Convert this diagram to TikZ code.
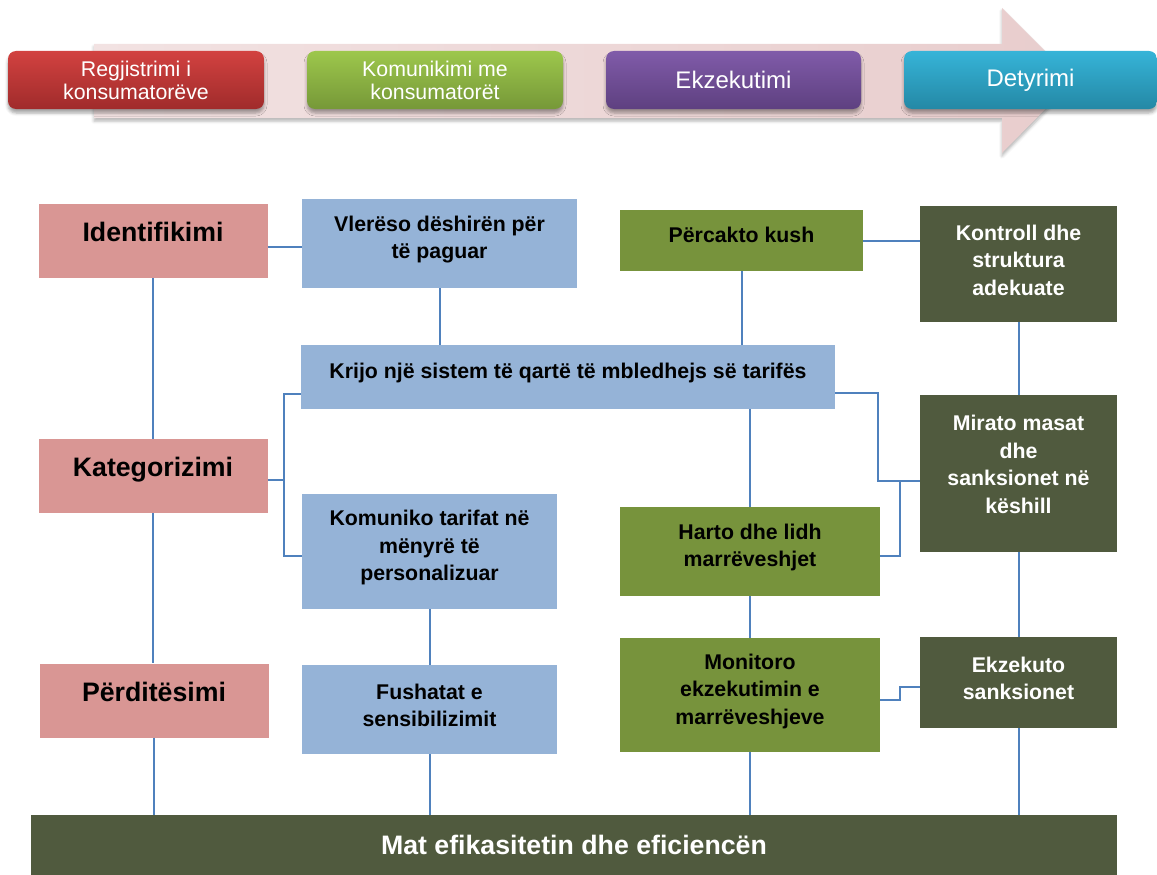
\documentclass[tikz,border=0pt]{standalone}
\usepackage{fontspec}
\setmainfont{Liberation Sans}
\usetikzlibrary{shadows.blur}
\definecolor{bandL}{RGB}{242,226,226}
\definecolor{bandR}{RGB}{232,205,205}
\definecolor{redT}{RGB}{210,66,64}
\definecolor{redB}{RGB}{160,43,43}
\definecolor{grnT}{RGB}{157,199,76}
\definecolor{grnB}{RGB}{118,152,56}
\definecolor{purT}{RGB}{128,91,169}
\definecolor{purB}{RGB}{94,64,128}
\definecolor{tealT}{RGB}{54,180,216}
\definecolor{tealB}{RGB}{36,136,165}
\definecolor{pinkbox}{RGB}{217,150,148}
\definecolor{bluebox}{RGB}{149,179,215}
\definecolor{olivebox}{RGB}{119,147,60}
\definecolor{darkbox}{RGB}{80,90,62}
\definecolor{conn}{RGB}{79,129,189}
\begin{document}
\begin{tikzpicture}[x=1pt,y=-1pt,
  topbox/.style={rectangle, rounded corners=8pt, minimum width=256, minimum height=58, inner sep=0pt,
    blur shadow={shadow xshift=0pt, shadow yshift=-4pt, shadow blur radius=3pt, shadow blur extra rounding=2pt, shadow opacity=35},
    text=white, align=center, font=\fontsize{21.3}{23}\selectfont},
  topone/.style={font=\fontsize{24}{26}\selectfont},
  flat/.style={rectangle, inner sep=0pt},
  pinkb/.style={flat, fill=pinkbox, minimum width=229, minimum height=74},
  blueb/.style={flat, fill=bluebox},
  oliveb/.style={flat, fill=olivebox},
  darkb/.style={flat, fill=darkbox},
  lbl/.style={inner sep=0pt, align=center, font=\bfseries\fontsize{21.3}{27.5}\selectfont, yshift=4pt},
  biglbl/.style={inner sep=0pt, align=center, font=\bfseries\fontsize{26.7}{32}\selectfont, yshift=6pt,
    text height=19pt, text depth=5.5pt},
  onelbl/.style={text height=15.5pt, text depth=4.5pt},
  wlbl/.style={text=white},
  link/.style={draw=conn, line width=2pt}
]
\useasboundingbox (0,0) rectangle (1157,875);

% ---------- top process arrow ----------
\path[left color=bandL, right color=bandR,
  blur shadow={shadow xshift=0pt, shadow yshift=-3pt, shadow blur radius=3pt, shadow opacity=30}]
  (94,44) -- (1002,44) -- (1002,8) -- (1074,80) -- (1002,153) -- (1002,118) -- (94,118) -- cycle;

\node[topbox, top color=redT, bottom color=redB] (reg) at (136,80) {Regjistrimi i\\konsumatorëve};
\node[topbox, top color=grnT, bottom color=grnB] (kmk) at (435,80) {Komunikimi me\\konsumatorët};
\node[topbox, topone, top color=purT, bottom color=purB, minimum width=255] (ekz) at (733.5,80) {Ekzekutimi};
\node[topbox, topone, top color=tealT, bottom color=tealB, minimum width=253] (det) at (1030.5,80) {Detyrimi};

% ---------- connector coordinates ----------
\coordinate (bx) at (284,0);
\coordinate (j1) at (878,481);
\coordinate (j2) at (900,481);

% ---------- boxes ----------
\node[pinkb] (idf) at (153,241) {};
\node[pinkb] (kat) at (153,476) {};
\node[pinkb] (per) at (154,700.5) {};

\node[blueb, minimum width=275, minimum height=89] (vle) at (439.5,243.5) {};
\node[blueb, minimum width=534, minimum height=64] (kri) at (568,377) {};
\node[blueb, minimum width=255, minimum height=115] (kom) at (429.5,551.5) {};
\node[blueb, minimum width=255, minimum height=89] (fus) at (429.5,709.5) {};

\node[oliveb, minimum width=243, minimum height=61] (pck) at (741.5,240.5) {};
\node[oliveb, minimum width=260, minimum height=89] (har) at (750,551.5) {};
\node[oliveb, minimum width=260, minimum height=114] (mon) at (750,695) {};

\node[darkb, minimum width=197, minimum height=116] (kon) at (1018.5,264) {};
\node[darkb, minimum width=197, minimum height=157] (mir) at (1018.5,473.5) {};
\node[darkb, minimum width=197, minimum height=91] (eks) at (1018.5,682.5) {};

\node[darkb, minimum width=1086, minimum height=60] (bar) at (574,845) {};

% ---------- connectors ----------
\draw[link] ([yshift=-6pt]idf.east) -- ([yshift=-6pt]idf.east -| vle.west);
\draw[link] (idf.south) -- (kat.north);
\draw[link] (kat.south) -- (kat.south |- per.north);
\draw[link] (per.south) -- (per.south |- bar.north);
\draw[link] (vle.south) -- (vle.south |- kri.north);
\draw[link] ([yshift=-17pt]kri.west) -| ([yshift=-4pt]bx |- kom.west) -- ([yshift=-4pt]kom.west);
\draw[link] ([yshift=-4pt]kat.east) -- ([yshift=-4pt]bx |- kat.east);
\draw[link] (kom.south) -- (fus.north);
\draw[link] (fus.south) -- (fus.south |- bar.north);
\draw[link] (pck.east) -- (pck.east -| kon.west);
\draw[link] (pck.south) -- (pck.south |- kri.north);
\draw[link] (kon.south) -- (mir.north);
\draw[link] ([yshift=-16pt]kri.east) -| (j1) -- (j1 -| mir.west);
\draw[link] ([yshift=-4pt]har.east) -| (j2);
\draw[link] (har.north |- kri.south) -- (har.north);
\draw[link] (har.south) -- (mon.north);
\draw[link] (mir.south) -- (eks.north);
\draw[link] ([yshift=-5pt]mon.east) -- ++(20,0) |- ([yshift=-4.5pt]eks.west);
\draw[link] (mon.south) -- (mon.south |- bar.north);
\draw[link] (eks.south) -- (eks.south |- bar.north);

% ---------- texts ----------
\node[biglbl] (idft) at (idf.center) {Identifikimi};
\node[biglbl] (katt) at (kat.center) {Kategorizimi};
\node[biglbl] (pert) at (per.center) {Përditësimi};

\node[lbl] (vlet) at (vle.center) {Vlerëso dëshirën për\\të paguar};
\node[lbl, onelbl] (krit) at (kri.center) {Krijo një sistem të qartë të mbledhejs së tarifës};
\node[lbl] (komt) at (kom.center) {Komuniko tarifat në\\mënyrë të\\personalizuar};
\node[lbl] (fust) at (fus.center) {Fushatat e\\sensibilizimit};

\node[lbl, onelbl] (pckt) at (pck.center) {Përcakto kush};
\node[lbl] (hart) at (har.center) {Harto dhe lidh\\marrëveshjet};
\node[lbl] (mont) at (mon.center) {Monitoro\\ekzekutimin e\\marrëveshjeve};

\node[lbl, wlbl] (kont) at (kon.center) {Kontroll dhe\\struktura\\adekuate};
\node[lbl, wlbl, yshift=5pt] (mirt) at (mir.center) {Mirato masat\\dhe\\sanksionet në\\këshill};
\node[lbl, wlbl] (ekst) at (eks.center) {Ekzekuto\\sanksionet};

\node[inner sep=0pt, text=white, font=\bfseries\fontsize{26.7}{32}\selectfont] (bart) at (bar.center) {Mat efikasitetin dhe eficiencën};
\end{tikzpicture}
\end{document}
